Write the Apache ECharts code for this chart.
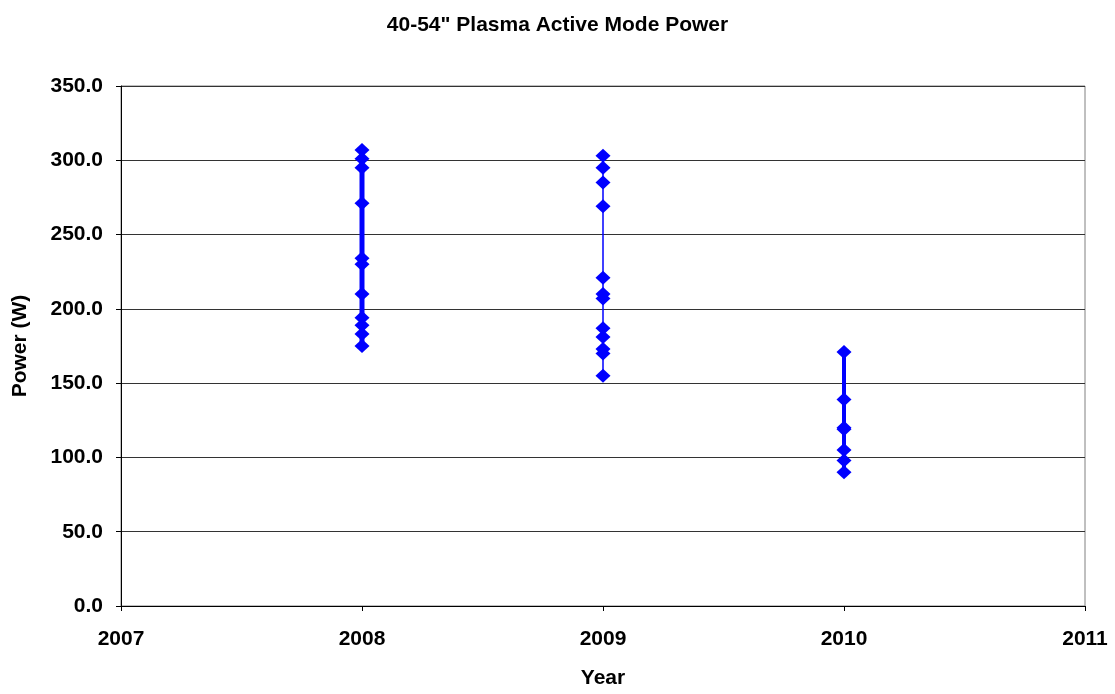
<!DOCTYPE html>
<html>
<head>
<meta charset="utf-8">
<script src="https://cdn.jsdelivr.net/npm/echarts@6/dist/echarts.min.js"></script>
<style>
  html, body { margin: 0; padding: 0; background: #fff; }
  #chart { width: 1115px; height: 694px; }
</style>
</head>
<body>
<div id="chart"></div>
<script>
// power readings (W) per model year
const power2008 = [307, 301, 295, 271, 234, 230, 210, 194, 189, 183, 175]
const power2009 = [303, 295, 285, 269, 221, 210, 207, 187, 181, 173, 170, 155]
const power2010 = [171, 139, 120, 119, 105, 98, 90]

const years = [2008, 2009, 2010]
const powers = [power2008, power2009, power2010]
const lineWidths = [5, 1.5, 4]

const font = '"Liberation Sans", Arial, sans-serif'
const chart = echarts.init(document.getElementById('chart'))

let series = years.map((yr, i) => {
  return {
    name: String(yr),
    type: 'line',
    data: powers[i].map((v) => [yr, v]),
    symbol: 'diamond',
    symbolSize: [15, 14],
    itemStyle: { color: '#0000ff' },
    lineStyle: { color: '#0000ff', width: lineWidths[i] },
    animation: false,
  }
})

let option = {
  backgroundColor: '#fff',
  title: {
    text: '40-54" Plasma Active Mode Power',
    left: 'center',
    top: 10,
    textStyle: { fontFamily: font, fontSize: 21, fontWeight: 'bold', color: '#000' },
  },
  grid: { left: 121, right: 30, top: 86, bottom: 87, show: true, borderColor: '#808080', borderWidth: 1 },
  xAxis: {
    type: 'value',
    min: 2007,
    max: 2011,
    interval: 1,
    name: 'Year',
    nameLocation: 'middle',
    nameGap: 62,
    nameTextStyle: { fontFamily: font, fontSize: 21, fontWeight: 'bold', color: '#000' },
    axisLine: { show: true, lineStyle: { color: '#000' } },
    axisTick: { show: true, inside: false, length: 5, lineStyle: { color: '#000' } },
    axisLabel: { fontFamily: font, fontSize: 21, fontWeight: 'bold', color: '#000', margin: 23, formatter: (v) => String(v) },
    splitLine: { show: false },
  },
  yAxis: {
    type: 'value',
    min: 0,
    max: 350,
    interval: 50,
    name: 'Power (W)',
    nameLocation: 'middle',
    nameGap: 90,
    nameTextStyle: { fontFamily: font, fontSize: 21, fontWeight: 'bold', color: '#000' },
    axisLine: { show: true, lineStyle: { color: '#000' } },
    axisTick: { show: true, inside: false, length: 5, lineStyle: { color: '#000' } },
    axisLabel: { fontFamily: font, fontSize: 21, fontWeight: 'bold', color: '#000', margin: 18, formatter: (v) => v.toFixed(1) },
    splitLine: { show: true, lineStyle: { color: '#333', width: 1 } },
  },
  series: series,
}

chart.setOption(option)
</script>
</body>
</html>
